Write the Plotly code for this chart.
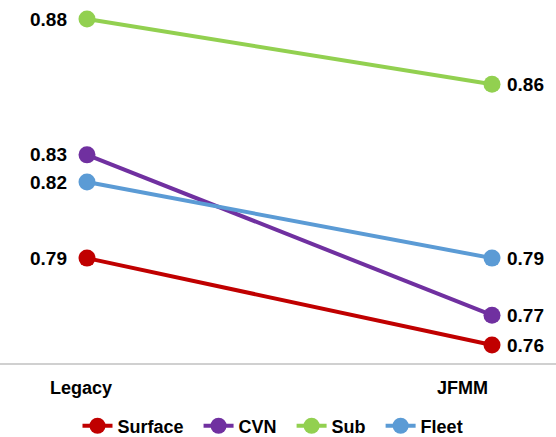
import plotly.graph_objects as go

categories = ["Legacy", "JFMM"]
series_names = ["Surface", "CVN", "Sub", "Fleet"]
surface = [0.792, 0.760]
cvn = [0.830, 0.771]
sub = [0.880, 0.856]
fleet = [0.820, 0.792]
colors = ["#C00000", "#7030A0", "#92D050", "#5B9BD5"]

series = [surface, cvn, sub, fleet]
xpos = list(range(len(categories)))

FONT = "Liberation Sans, Arial, sans-serif"
PAD = "\u00a0\u00a0"

fig = go.Figure()
for name, vals, col in zip(series_names, series, colors):
    fig.add_trace(go.Scatter(
        x=xpos, y=vals, name=f"<b>{name}</b>{PAD}", mode="lines+markers",
        line=dict(color=col, width=4),
        marker=dict(color=col, size=17),
    ))

annotations = []
for vals in series:
    annotations.append(dict(x=xpos[0], y=vals[0], xref="x", yref="y",
                            text=f"<b>{vals[0]:.2f}</b>", showarrow=False,
                            xanchor="right", xshift=-18,
                            font=dict(family=FONT, size=19, color="#000000")))
    annotations.append(dict(x=xpos[1], y=vals[1], xref="x", yref="y",
                            text=f"<b>{vals[1]:.2f}</b>", showarrow=False,
                            xanchor="left", xshift=13,
                            font=dict(family=FONT, size=19, color="#000000")))

cat_shift = [-6, -30]
for i, c in enumerate(categories):
    annotations.append(dict(x=xpos[i], y=0, xref="x", yref="paper",
                            text=f"<b>{c}</b>", showarrow=False,
                            xanchor="center", yanchor="middle", yshift=-25,
                            xshift=cat_shift[i],
                            font=dict(family=FONT, size=18, color="#000000")))

fig.update_layout(
    width=556, height=437,
    margin=dict(l=0, r=0, t=0, b=74, autoexpand=False),
    paper_bgcolor="white", plot_bgcolor="white",
    showlegend=True,
    legend=dict(orientation="h", x=0.5, xanchor="center",
                yref="container", y=0.025, yanchor="middle",
                font=dict(family=FONT, size=18, color="#000000"),
                itemwidth=30),
    xaxis=dict(range=[-0.2148, 1.158], showgrid=False, zeroline=False,
               showticklabels=False, ticks="", showline=True,
               linecolor="#D0D0D0", linewidth=1.5, fixedrange=True),
    yaxis=dict(range=[0.7534, 0.8870], showgrid=False, zeroline=False,
               showticklabels=False, ticks="", showline=False, fixedrange=True),
    annotations=annotations,
)

fig.write_html("out.html")
